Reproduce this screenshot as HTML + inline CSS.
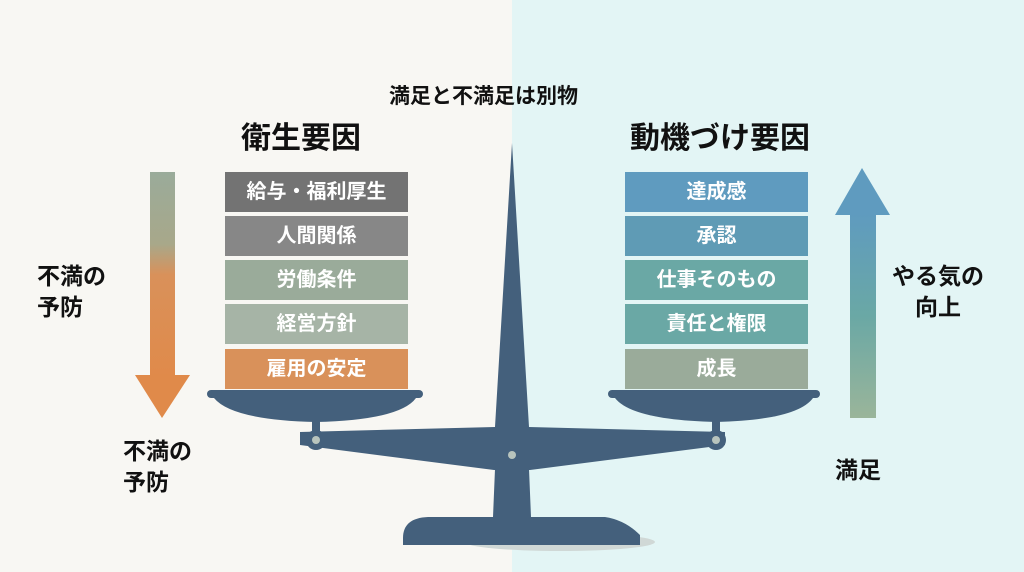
<!DOCTYPE html>
<html><head><meta charset="utf-8"><style>
body{margin:0;width:1024px;height:572px;overflow:hidden;font-family:"Liberation Sans","Noto Sans CJK JP",sans-serif;}
.bg{position:absolute;top:0;height:572px}
.t{position:absolute;font-weight:bold;color:#111;white-space:nowrap}
.box{position:absolute;width:183px;height:40px;color:#fff;font-weight:bold;font-size:20px;text-align:center;line-height:40px}
</style></head><body>
<div class="bg" style="left:0;width:512px;background:#f8f7f3"></div>
<div class="bg" style="left:512px;width:512px;background:#e3f5f5"></div>
<svg width="1024" height="572" style="position:absolute;left:0;top:0">
<defs>
<linearGradient id="la" x1="0" y1="0" x2="0" y2="1"><stop offset="0" stop-color="#9aab9a"/><stop offset="0.35" stop-color="#a8a88a"/><stop offset="0.5" stop-color="#d9915a"/><stop offset="1" stop-color="#e08a4a"/></linearGradient>
<linearGradient id="ra" x1="0" y1="0" x2="0" y2="1"><stop offset="0" stop-color="#5f9bbf"/><stop offset="0.5" stop-color="#6aa8a5"/><stop offset="1" stop-color="#9ab59a"/></linearGradient>
</defs>
<rect x="150" y="172" width="25" height="206" fill="url(#la)"/>
<polygon points="135,375 190,375 162,418" fill="#e08a4a"/>
<polygon points="835,215 890,215 862,168" fill="#5f9bbf"/>
<rect x="850" y="214" width="26" height="204" fill="url(#ra)"/>
<ellipse cx="560" cy="542" rx="95" ry="9" fill="#d0d8d6"/>
<g fill="#44607c">
<path d="M403,545 L403,538 Q403,518 428,517 L493,517 L496,445 L528,445 L531,517 L605,517 Q625,520 640,535 L640,545 Z"/>
<path d="M300,432 L495,427 L512,143 L529,427 L725,432 L725,445 L530,470 L494,470 L300,445 Z"/>
<circle cx="316" cy="440" r="10"/><circle cx="716" cy="440" r="10"/>
<rect x="312" y="415" width="8" height="20"/><rect x="712" y="415" width="8" height="20"/>
<rect x="207" y="390" width="216" height="8" rx="4"/>
<path d="M214,398 L416,398 Q400,420 316,422 Q232,420 214,398Z"/>
<rect x="608" y="390" width="212" height="8" rx="4"/>
<path d="M615,398 L813,398 Q797,420 716,422 Q632,420 615,398Z"/>
</g>
<circle cx="512" cy="455" r="4" fill="#b8c4bd"/>
<circle cx="316" cy="440" r="4" fill="#b8c4bd"/>
<circle cx="716" cy="440" r="4" fill="#b8c4bd"/>
</svg>
<div class="t" style="left:389px;top:80px;font-size:21px">満足と不満足は別物</div>
<div class="t" style="left:241px;top:113px;font-size:30px">衛生要因</div>
<div class="t" style="left:630px;top:113px;font-size:30px">動機づけ要因</div>
<div class="t" style="left:37px;top:261px;font-size:23px;line-height:31px">不満の<br>予防</div>
<div class="t" style="left:123px;top:436px;font-size:23px;line-height:31px">不満の<br>予防</div>
<div class="t" style="left:892px;top:261px;font-size:23px;line-height:31px;text-align:center">やる気の<br>向上</div>
<div class="t" style="left:835px;top:451px;font-size:23px">満足</div>
<div class="box" style="left:225px;top:172px;background:#737373">給与・福利厚生</div>
<div class="box" style="left:225px;top:216px;background:#878787">人間関係</div>
<div class="box" style="left:225px;top:260px;background:#9aab9a">労働条件</div>
<div class="box" style="left:225px;top:304px;background:#a6b4a6">経営方針</div>
<div class="box" style="left:225px;top:349px;background:#d9915a">雇用の安定</div>
<div class="box" style="left:625px;top:172px;background:#5f9bbf">達成感</div>
<div class="box" style="left:625px;top:216px;background:#5f9bb5">承認</div>
<div class="box" style="left:625px;top:260px;background:#6aa8a5">仕事そのもの</div>
<div class="box" style="left:625px;top:304px;background:#6aa8a5">責任と権限</div>
<div class="box" style="left:625px;top:349px;background:#9aab9a">成長</div>
</body></html>
